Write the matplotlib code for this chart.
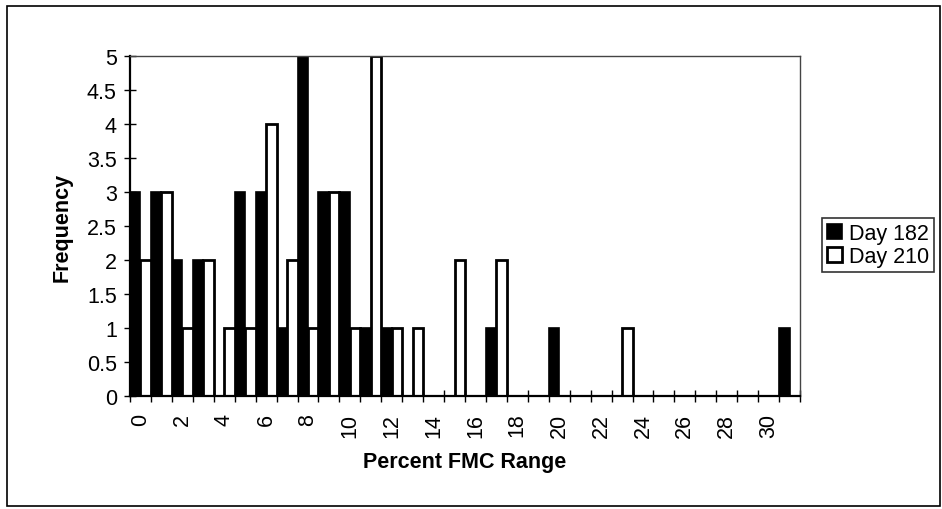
import matplotlib
matplotlib.use("Agg")
import matplotlib.pyplot as plt
from matplotlib.patches import Rectangle
import numpy as np

plt.rcParams['font.family'] = ['Liberation Sans', 'DejaVu Sans']

categories = list(range(32))
day182 = [3, 3, 2, 2, 0, 3, 3, 1, 5, 3, 3, 1, 1, 0, 0, 0,
          0, 1, 0, 0, 1, 0, 0, 0, 0, 0, 0, 0, 0, 0, 0, 1]
day210 = [2, 3, 1, 2, 1, 1, 4, 2, 1, 3, 1, 5, 1, 1, 0, 2,
          0, 2, 0, 0, 0, 0, 0, 1, 0, 0, 0, 0, 0, 0, 0, 0]
tick_labels = [str(c) for c in categories[::2]]
y_ticks = [0, 0.5, 1, 1.5, 2, 2.5, 3, 3.5, 4, 4.5, 5]
y_tick_labels = ['0', '0.5', '1', '1.5', '2', '2.5', '3', '3.5', '4', '4.5', '5']

fig = plt.figure(figsize=(9.42, 5.10), dpi=100)
ax = fig.add_axes([130/942, 1-397/510, 670/942, 340/510])

x = np.arange(len(categories))
w = 0.5
ax.bar(x - w/2, day182, width=w, color='black', edgecolor='black', linewidth=1.2, label='Day 182')
ax.bar(x + w/2, day210, width=w, color='white', edgecolor='black', linewidth=2.0, label='Day 210')

ax.set_xlim(-0.5, len(categories) - 0.5)
ax.set_ylim(0, 5)
ax.set_yticks(y_ticks)
ax.set_yticklabels(y_tick_labels, fontsize=15.5)
ax.tick_params(axis='y', direction='inout', length=9, width=1, pad=5)

ax.set_xticks(x[::2])
ax.set_xticklabels(tick_labels, rotation=90, fontsize=15.5)
ax.tick_params(axis='x', which='major', length=0, pad=12)
ax.set_xticks(np.arange(-0.5, len(categories), 1), minor=True)
ax.tick_params(axis='x', which='minor', direction='inout', length=8, width=1)

for s in ['left', 'bottom']:
    ax.spines[s].set_linewidth(1.6)
    ax.spines[s].set_color('black')
for s in ['top', 'right']:
    ax.spines[s].set_linewidth(1.0)
    ax.spines[s].set_color('#444444')
    ax.spines[s].set_linestyle((0, (3, 1)))

ax.set_xlabel('Percent FMC Range', fontsize=15.5, fontweight='bold', labelpad=10)
ax.set_ylabel('Frequency', fontsize=15.5, fontweight='bold', labelpad=10)

leg = ax.legend(loc='center left', bbox_to_anchor=(822/942, 1-246/510), bbox_transform=fig.transFigure,
                frameon=True, fancybox=False, edgecolor='black', fontsize=15.5,
                handlelength=0.7, handleheight=0.7, handletextpad=0.3, borderpad=0.25,
                labelspacing=0.1, borderaxespad=0)
leg.get_frame().set_linewidth(1.2)

fig.patches.append(Rectangle((7/942, 3/510), 933/942, 500/510, transform=fig.transFigure,
                             fill=False, edgecolor='black', linewidth=1.2))

fig.savefig('out.png', dpi=100)
